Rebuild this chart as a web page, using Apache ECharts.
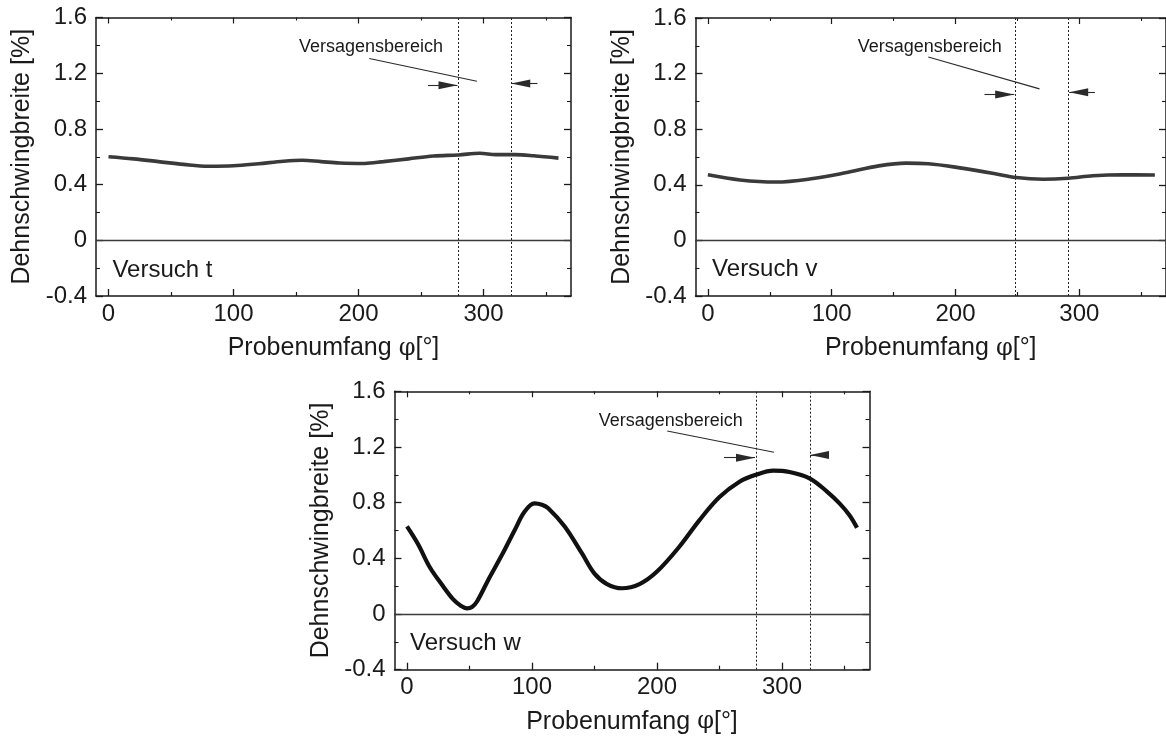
<!DOCTYPE html>
<html>
<head>
<meta charset="utf-8">
<script src="https://cdn.jsdelivr.net/npm/echarts@6/dist/echarts.min.js"></script>
<style>
  html, body { margin: 0; padding: 0; background: #ffffff; }
  #chart { width: 1166px; height: 740px; }
</style>
</head>
<body>
<div id="chart"></div>
<script>
// Strain amplitude around the specimen circumference for three tests
const angleT  = [0, 20, 40, 60, 80, 100, 120, 140, 155, 170, 185, 205, 220, 240, 260, 280, 297, 310, 325, 340, 360];
const strainT = [0.60, 0.585, 0.565, 0.545, 0.532, 0.535, 0.55, 0.568, 0.575, 0.565, 0.555, 0.552, 0.565, 0.585, 0.605, 0.613, 0.625, 0.615, 0.615, 0.607, 0.59];

const angleV  = [0, 26, 55, 85, 111, 138, 160, 178, 205, 231, 249, 271, 291, 311, 335, 361];
const strainV = [0.472, 0.435, 0.42, 0.445, 0.486, 0.536, 0.556, 0.552, 0.52, 0.482, 0.452, 0.44, 0.447, 0.465, 0.472, 0.47];

const angleW  = [0, 9, 18, 28, 37, 43, 48, 52, 56, 65, 76, 86, 94, 102, 108, 113, 126, 140, 150, 160, 172, 186, 200, 218, 234, 250, 266, 279, 293, 306, 322, 336, 346, 354, 360];
const strainW = [0.63, 0.50, 0.34, 0.21, 0.105, 0.06, 0.04, 0.05, 0.09, 0.245, 0.425, 0.60, 0.735, 0.795, 0.785, 0.76, 0.63, 0.435, 0.29, 0.215, 0.185, 0.215, 0.305, 0.485, 0.675, 0.84, 0.95, 1.0, 1.03, 1.02, 0.975, 0.88, 0.795, 0.71, 0.62];

const panelNames = ['Versuch t', 'Versuch v', 'Versuch w'];
const calloutText = 'Versagensbereich';

// failure zone boundaries (degrees)
const zoneStart = [280, 248.6, 279];
const zoneEnd   = [322, 291.3, 322.4];

// axis ticks
const xTicks      = [0, 100, 200, 300];
const xMinorTicks = [50, 150, 250, 350];

// callout anchors in data units: [x, y]
const calloutAt   = [[152, 1.385], [120.6, 1.394], [153, 1.389]];
const pointerFrom = [[208.6, 1.305], [178, 1.319], [208.2, 1.315]];
const pointerTo   = [[294.7, 1.142], [267.8, 1.09], [293.6, 1.162]];
// arrows: [tail x, tip x, y]
const arrowLeft   = [[255.5, 279.2, 1.113], [223.4, 247.4, 1.049], [253.6, 278.4, 1.123]];
const arrowRight  = [[343.2, 322.2, 1.126], [312.6, 291.8, 1.066], [335.8, 322.4, 1.142]];
const panelLabelAt = [[2.7, -0.215], [3, -0.21], [2, -0.21]];

const curves = [
  { angle: angleT, strain: strainT, color: '#3a3a3a', width: 3.6 },
  { angle: angleV, strain: strainV, color: '#3a3a3a', width: 3.6 },
  { angle: angleW, strain: strainW, color: '#111111', width: 4.2 }
];

const grids = [
  { left: 96,    top: 17.5,  width: 475, height: 278.5 },
  { left: 695.5, top: 18,    width: 475, height: 278 },
  { left: 394.5, top: 391.3, width: 475, height: 278.4 }
];

const FONT = "'Liberation Sans', Arial, sans-serif";
const INK = '#1a1a1a';

const xAxes = [];
const yAxes = [];
const series = [];

grids.forEach((g, i) => {
  const common = {
    gridIndex: i, type: 'value', min: -10, max: 370,
    splitLine: { show: false },
    axisLine: { onZero: false, lineStyle: { color: INK, width: 1.5 } }
  };
  // bottom axis with labels
  xAxes.push(Object.assign({}, common, {
    position: 'bottom',
    axisTick: { inside: true, length: 7, customValues: xTicks, lineStyle: { color: INK, width: 1.3 } },
    axisLabel: { customValues: xTicks, fontFamily: FONT, fontSize: 24, color: INK, margin: 6 },
    name: 'Probenumfang {p|φ}[°]',
    nameLocation: 'middle', nameGap: 40,
    nameTextStyle: { fontFamily: FONT, fontSize: 25, color: INK,
      rich: { p: { fontFamily: 'DejaVu Serif', fontSize: 24, color: INK } } }
  }));
  // bottom minor ticks
  xAxes.push(Object.assign({}, common, {
    position: 'bottom',
    axisLine: { show: false, onZero: false },
    axisTick: { inside: true, length: 4, customValues: xMinorTicks, lineStyle: { color: INK, width: 1.2 } },
    axisLabel: { show: false }
  }));
  // top mirrored axis
  xAxes.push(Object.assign({}, common, {
    position: 'top',
    axisTick: { inside: true, length: 6, customValues: xTicks, lineStyle: { color: INK, width: 1.2 } },
    axisLabel: { show: false }
  }));
  xAxes.push(Object.assign({}, common, {
    position: 'top',
    axisLine: { show: false, onZero: false },
    axisTick: { inside: true, length: 3, customValues: xMinorTicks, lineStyle: { color: INK, width: 1.1 } },
    axisLabel: { show: false }
  }));

  const yCommon = {
    gridIndex: i, type: 'value', min: -0.4, max: 1.6, interval: 0.4,
    splitLine: { show: false },
    minorSplitLine: { show: false },
    axisLine: { show: true, onZero: false, lineStyle: { color: INK, width: 1.5 } },
    axisTick: { inside: true, length: 7, lineStyle: { color: INK, width: 1.3 } },
    minorTick: { show: true, splitNumber: 2, length: 4, lineStyle: { color: INK, width: 1.1 } }
  };
  yAxes.push(Object.assign({}, yCommon, {
    position: 'left',
    axisLabel: { fontFamily: FONT, fontSize: 24, color: INK, margin: 9 },
    name: 'Dehnschwingbreite [%]',
    nameLocation: 'middle', nameRotate: 90, nameGap: 61,
    nameTextStyle: { fontFamily: FONT, fontSize: 25, color: INK }
  }));
  yAxes.push(Object.assign({}, yCommon, {
    position: 'right',
    axisLabel: { show: false }
  }));

  const c = curves[i];
  const xa = i * 4, ya = i * 2;
  const arrowEnd = (tipX, y) => ({
    coord: [tipX, y], symbol: 'triangle', symbolSize: [8, 19], symbolOffset: [0, '50%']
  });
  series.push({
    type: 'line',
    xAxisIndex: xa, yAxisIndex: ya,
    data: c.angle.map((a, k) => [a, c.strain[k]]),
    smooth: 0.35,
    showSymbol: false,
    lineStyle: { color: c.color, width: c.width },
    z: 5,
    markLine: {
      silent: true,
      symbol: ['none', 'none'],
      label: { show: false },
      animation: false,
      data: [
        { yAxis: 0, lineStyle: { type: 'solid', color: '#3a3a3a', width: 1.3 } },
        { xAxis: zoneStart[i], lineStyle: { type: [2, 2], color: '#222222', width: 1 } },
        { xAxis: zoneEnd[i], lineStyle: { type: [2, 2], color: '#222222', width: 1 } },
        [ { coord: pointerFrom[i] }, { coord: pointerTo[i] } ],
        [ { coord: [arrowLeft[i][0], arrowLeft[i][2]] }, arrowEnd(arrowLeft[i][1], arrowLeft[i][2]) ],
        [ { coord: [arrowRight[i][0], arrowRight[i][2]] }, arrowEnd(arrowRight[i][1], arrowRight[i][2]) ]
      ].map(d => Array.isArray(d)
        ? d.map(p => Object.assign({ lineStyle: { type: 'solid', color: '#2a2a2a', width: 1.1 } }, p))
        : d)
    }
  });
  // text annotations
  const textLabel = (text, size) => ({
    show: true, position: 'right', distance: 0, verticalAlign: 'middle',
    formatter: text, fontFamily: FONT, fontSize: size, color: INK,
    opacity: 1, textBorderWidth: 0
  });
  series.push({
    type: 'scatter',
    xAxisIndex: xa, yAxisIndex: ya,
    symbolSize: 1,
    itemStyle: { color: '#ffffff', opacity: 0 },
    emphasis: { disabled: true },
    silent: true,
    z: 6,
    data: [
      { value: calloutAt[i], label: textLabel(calloutText, 18) },
      { value: panelLabelAt[i], label: textLabel(panelNames[i], 24) }
    ]
  });
});

const chart = echarts.init(document.getElementById('chart'), null, { renderer: 'canvas' });
chart.setOption({
  animation: false,
  backgroundColor: '#ffffff',
  grid: grids.map(g => Object.assign({ containLabel: false }, g)),
  xAxis: xAxes,
  yAxis: yAxes,
  series: series
});
</script>
</body>
</html>
